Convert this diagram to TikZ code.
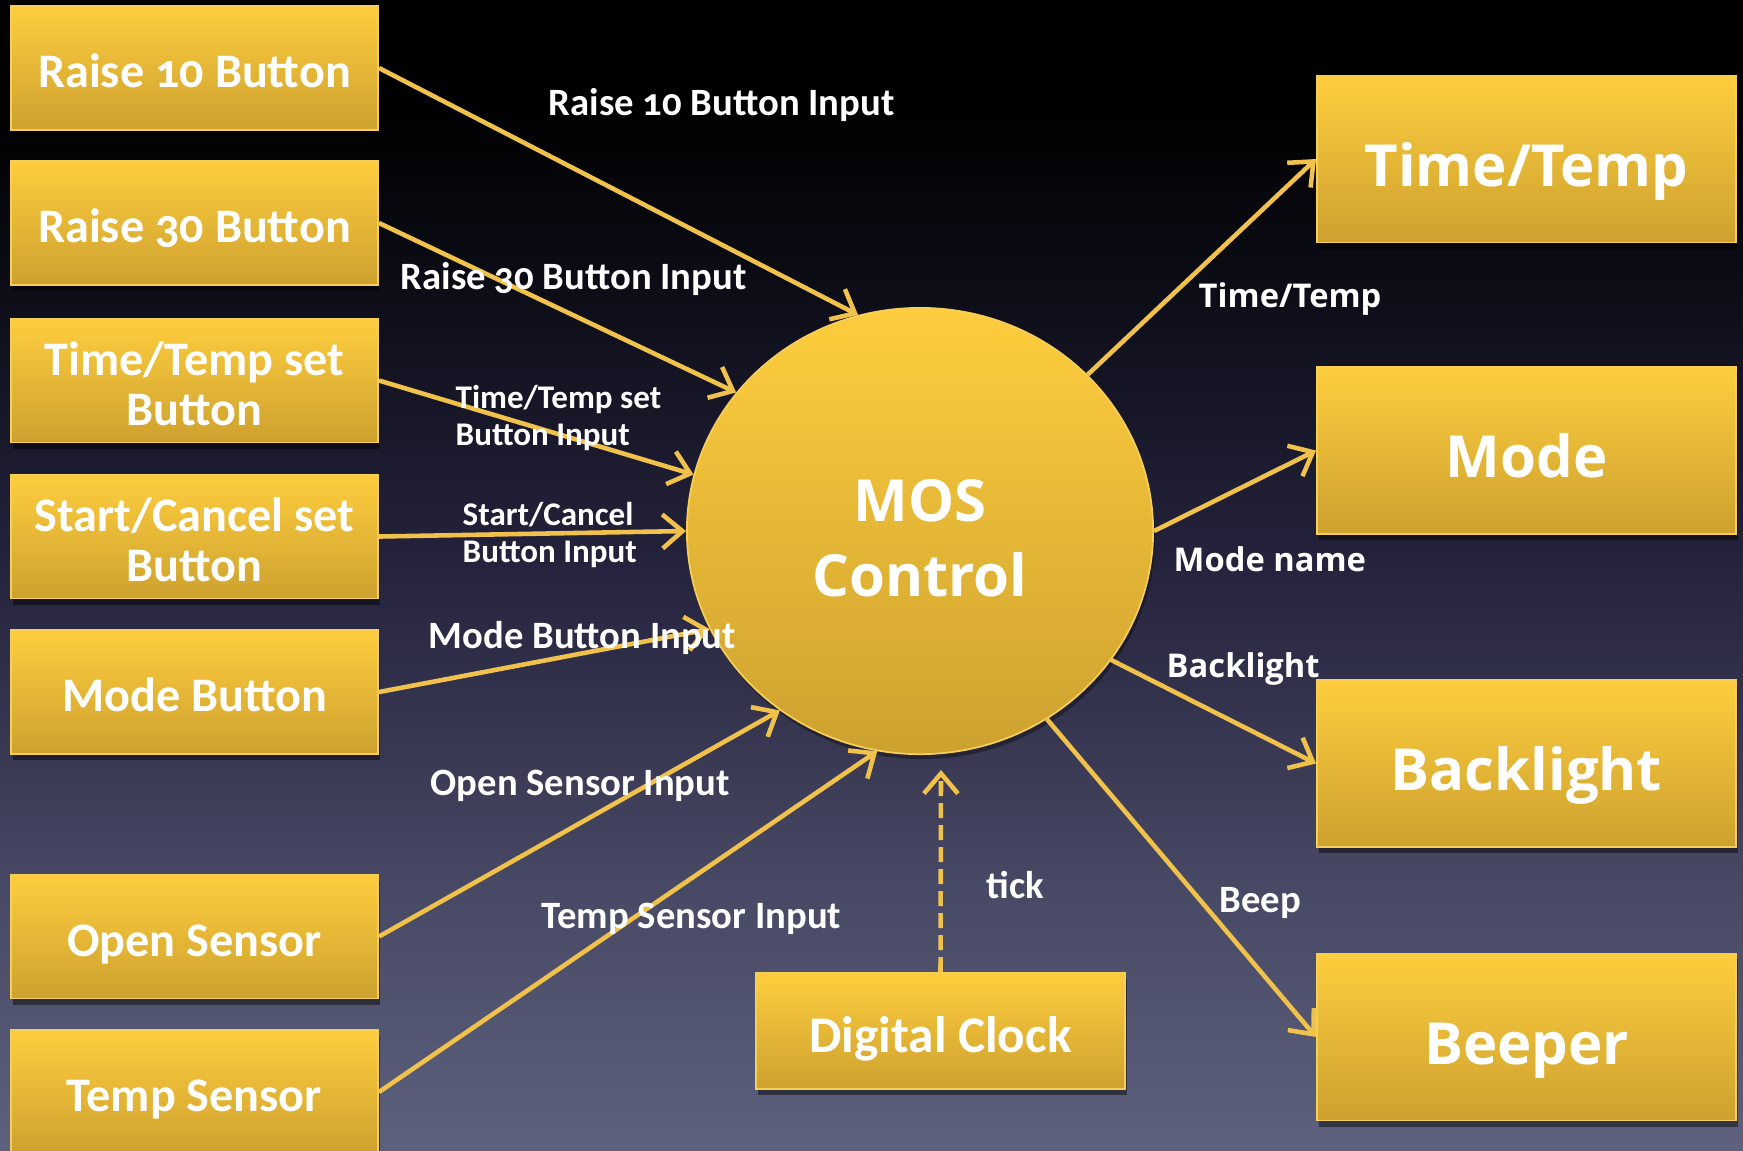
\documentclass[tikz,border=0pt]{standalone}
\usepackage{fontspec}
\setmainfont{Carlito}[Numbers=OldStyle]
\newfontfamily\segoe{Open Sans}
\usetikzlibrary{arrows.meta,shapes.geometric,shadows}
\definecolor{boxtop}{RGB}{254,205,62}
\definecolor{boxbot}{RGB}{205,161,47}
\definecolor{boxedge}{RGB}{246,206,90}
\definecolor{arr}{RGB}{240,194,76}
\definecolor{bgA}{RGB}{93,97,125}
\definecolor{bgB}{RGB}{72,73,100}
\definecolor{bgC}{RGB}{38,36,62}
\definecolor{bgD}{RGB}{12,12,22}
\pgfdeclareverticalshading{bgshade}{100bp}{color(0bp)=(bgA); color(25bp)=(bgA); color(36.3bp)=(bgB); color(50bp)=(bgC); color(62.9bp)=(bgD); color(70.7bp)=(black); color(100bp)=(black)}
\begin{document}
\begin{tikzpicture}[x=0.01cm,y=-0.01cm,
  box/.style={rectangle, draw=boxedge, line width=0.5pt, top color=boxtop, bottom color=boxbot,
    text=white, align=center, inner sep=0pt, text depth=0pt,
    font=\bfseries\fontsize{13.7}{14.2}\selectfont,
    drop shadow={shadow xshift=0.02cm, shadow yshift=-0.06cm, opacity=0.45, fill=black}},
  lbox/.style={box, minimum width=3.67cm, minimum height=1.24cm, text height=11.1pt},
  lboxtwo/.style={lbox, text height=25.3pt},
  rbox/.style={box, minimum width=4.19cm, minimum height=1.67cm, text height=15.6pt,
    font=\segoe\bfseries\fontsize{16.5}{20}\selectfont},
  flow/.style={draw=arr, line width=1.3pt, -{Straight Barb[length=0.2cm,width=0.34cm]}},
  lab/.style={text=white, anchor=base west, inner sep=0pt, align=left, font=\bfseries\fontsize{11}{12}\selectfont},
  slab/.style={lab, font=\bfseries\fontsize{9.4}{10.5}\selectfont},
  rlab/.style={lab, font=\segoe\bfseries\fontsize{9.3}{11}\selectfont}]
\shade[shading=bgshade] (0,0) rectangle (1743,1150);
\useasboundingbox (0,0) rectangle (1743,1150);

% left boxes
\node[lbox] (r10) at (194.5,68) {Raise 10 Button};
\node[lbox] (r30) at (194.5,223) {Raise 30 Button};
\node[lboxtwo] (tts) at (194.5,380.5) {Time/Temp set\\Button};
\node[lboxtwo] (sc)  at (194.5,536.5) {Start/Cancel set\\Button};
\node[lbox] (mb)  at (194.5,692) {Mode Button};
\node[lbox] (os)  at (194.5,936.5) {Open Sensor};
\node[lbox] (ts)  at (194.5,1092) {Temp Sensor};

% right boxes
\node[rbox] (tt) at (1526.5,159) {Time/Temp};
\node[rbox] (md) at (1526.5,450.5) {Mode};
\node[rbox] (bl) at (1526.5,763.5) {Backlight};
\node[rbox] (bp) at (1526.5,1037) {Beeper};

% clock
\node[box, minimum width=3.69cm, minimum height=1.16cm, text height=12.2pt,
  font=\bfseries\fontsize{14.6}{16}\selectfont] (clk) at (940.5,1031) {Digital Clock};

% central process
\node[ellipse, draw=boxedge, line width=0.5pt, top color=boxtop, bottom color=boxbot,
  minimum width=4.66cm, minimum height=4.46cm, inner sep=0pt, text=white, align=center,
  text height=37pt, text depth=0pt,
  font=\segoe\bfseries\fontsize{16.5}{21.3}\selectfont,
  drop shadow={shadow xshift=0.02cm, shadow yshift=-0.05cm, opacity=0.35, fill=black}] (mos) at (920,531) {MOS\\Control};

% inputs
\draw[flow] (r10.east) -- (mos.106.8);
\draw[flow] (r30.east) -- (mos.143.9);
\draw[flow] (tts.east) -- (mos.166.5);
\draw[flow] (sc.east)  -- (mos.180);
\draw[flow] (mb.east)  -- (mos.205.1);
\draw[flow] (os.east)  -- (mos.232.4);
\draw[flow] (ts.east)  -- (mos.259.4);
\coordinate (tickend) at (941,770);
\draw[flow, dash pattern=on 0.15cm off 0.07cm] (clk.north) -- (tickend);

% outputs
\draw[flow] (mos.43.9)  -- (tt.west);
\draw[flow] (mos.0)     -- (md.west);
\draw[flow] (mos.326.1) -- (bl.west);
\draw[flow] (mos.304.5) -- (bp.west);

% labels
\node[lab]  (l1) at (548,115) {Raise 10 Button Input};
\node[lab]  (l2) at (400,289) {Raise 30 Button Input};
\node[slab] (l3) at (455,445) {Time/Temp set\\Button Input};
\node[slab] (l4) at (462,562) {Start/Cancel\\Button Input};
\node[lab]  (l5) at (428,648) {Mode Button Input};
\node[lab]  (l6) at (430,795) {Open Sensor Input};
\node[lab]  (l7) at (541,928) {Temp Sensor Input};
\node[lab]  (l8) at (986,898) {tick};
\node[lab]  (l9) at (1219,912) {Beep};
\node[rlab] (l10) at (1198,307) {Time/Temp};
\node[rlab] (l11) at (1173,571) {Mode name};
\node[rlab] (l12) at (1166,677) {Backlight};
\end{tikzpicture}
\end{document}
